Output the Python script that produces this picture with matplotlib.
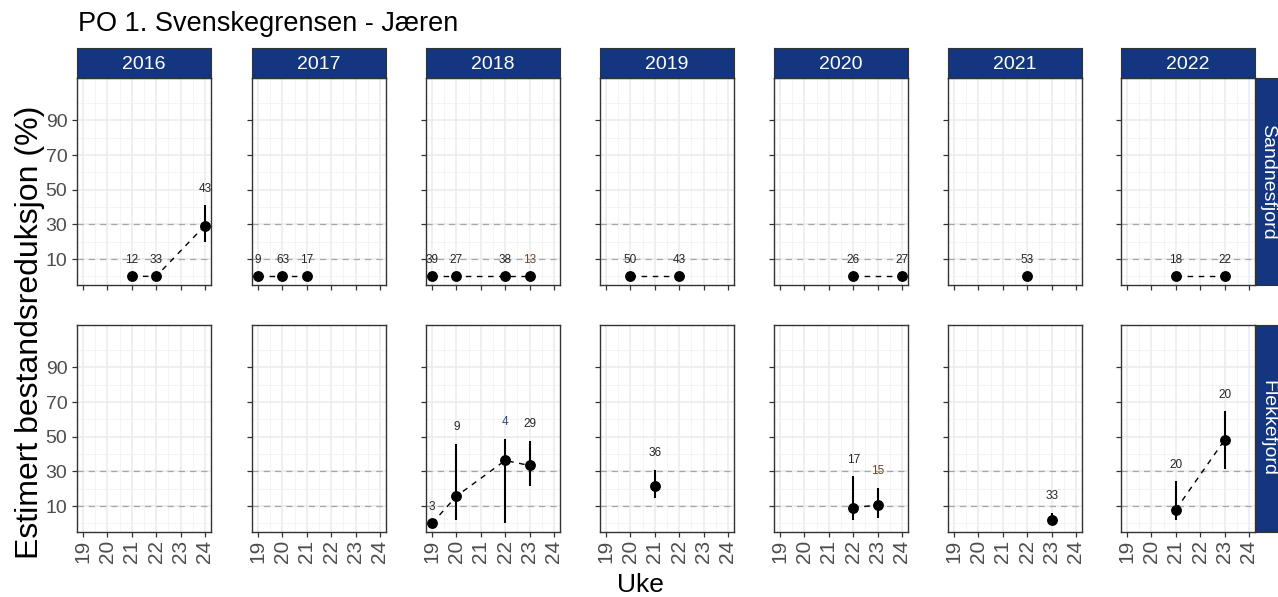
import numpy as np
import pandas as pd
import matplotlib
matplotlib.use("Agg")
import matplotlib.pyplot as plt

plt.rcParams['font.family'] = ['Liberation Sans', 'DejaVu Sans']

title = "PO 1. Svenskegrensen - Jæren"
years = [2016, 2017, 2018, 2019, 2020, 2021, 2022]
sites = ["Sandnesfjord", "Flekkefjord"]
week_ticks = [19, 20, 21, 22, 23, 24]
y_ticks = [10, 30, 50, 70, 90]

# Sandnesfjord estimates
s_year = [2016, 2016, 2016, 2017, 2017, 2017, 2018, 2018, 2018, 2018,
          2019, 2019, 2020, 2020, 2021, 2022, 2022]
s_week = [21, 22, 24, 19, 20, 21, 19, 20, 22, 23, 20, 22, 22, 24, 22, 21, 23]
s_est = [0, 0, 29.3, 0, 0, 0, 0, 0, 0, 0, 0, 0, 0, 0, 0, 0, 0]
s_lo = [0, 0, 20.1, 0, 0, 0, 0, 0, 0, 0, 0, 0, 0, 0, 0, 0, 0]
s_hi = [0, 0, 41.0, 0, 0, 0, 0, 0, 0, 0, 0, 0, 0, 0, 0, 0, 0]
s_n = [12, 33, 43, 9, 63, 17, 39, 27, 38, 13, 50, 43, 26, 27, 53, 18, 22]

# Flekkefjord estimates
f_year = [2018, 2018, 2018, 2018, 2019, 2020, 2020, 2021, 2022, 2022]
f_week = [19, 20, 22, 23, 21, 22, 23, 23, 21, 23]
f_est = [0, 15.7, 36.3, 33.4, 21.4, 9.0, 10.6, 1.8, 7.9, 48.1]
f_lo = [0, 1.7, 0, 21.4, 14.7, 2.2, 3.1, 0.8, 1.8, 31.3]
f_hi = [0, 46.0, 48.9, 47.7, 31.0, 27.3, 20.5, 6.2, 24.3, 64.7]
f_n = [3, 9, 4, 29, 36, 17, 15, 33, 20, 20]

df = pd.concat([
    pd.DataFrame({"site": "Sandnesfjord", "year": s_year, "week": s_week,
                  "est": s_est, "lo": s_lo, "hi": s_hi, "n": s_n}),
    pd.DataFrame({"site": "Flekkefjord", "year": f_year, "week": f_week,
                  "est": f_est, "lo": f_lo, "hi": f_hi, "n": f_n}),
])

# a few labels carry a tinted colour in the original
label_col = {("Flekkefjord", 2018, 22): "#2b4a78",
             ("Sandnesfjord", 2018, 23): "#6b4a2a",
             ("Flekkefjord", 2020, 23): "#6b4a2a"}

W, H = 1278, 597
strip_blue = "#143680"
fig = plt.figure(figsize=(W / 100, H / 100), dpi=100)

col_left = [77, 252, 426, 600, 774, 948, 1121]
pw = 134
row_top = [78, 325]
ph = 207
strip_h = 30

def fbox(x, y, w, h):
    return [x / W, 1 - (y + h) / H, w / W, h / H]

def strip(box):
    sax = fig.add_axes(box)
    sax.set_facecolor(strip_blue)
    sax.set_xticks([])
    sax.set_yticks([])
    for s in sax.spines.values():
        s.set_color("#333333")
    return sax

for r, site in enumerate(sites):
    for c, yr in enumerate(years):
        ax = fig.add_axes(fbox(col_left[c], row_top[r], pw, ph))
        ax.set_xlim(18.75, 24.25)
        ax.set_ylim(-5, 114.5)
        ax.set_xticks(week_ticks)
        ax.set_xticks(np.arange(19.5, 24.5, 1), minor=True)
        ax.set_yticks(y_ticks)
        ax.set_yticks(np.arange(0, 120, 20), minor=True)
        ax.grid(True, which="major", color="#ebebeb", lw=1.1)
        ax.grid(True, which="minor", color="#f2f2f2", lw=0.6)
        ax.set_axisbelow(True)
        for s in ax.spines.values():
            s.set_color("#333333")
            s.set_linewidth(1.0)
        ax.tick_params(which="major", length=3.5, width=0.9, color="#333333",
                       labelcolor="#4d4d4d", labelsize=14)
        ax.tick_params(which="minor", length=0)
        ax.tick_params(axis="x", labelrotation=90, labelsize=15, pad=2)
        if c != 0:
            ax.tick_params(axis="y", labelleft=False)
        if r != len(sites) - 1:
            ax.tick_params(axis="x", labelbottom=False)

        for yl in (10, 30):
            ax.axhline(yl, color="#a6a6a6", lw=0.9, ls=(0, (5, 4)), zorder=1)

        d = df[(df.site == site) & (df.year == yr)].sort_values("week")
        if len(d):
            ax.plot(d.week, d.est, color="black", lw=1.0, ls=(0, (4, 4)), zorder=2)
            ax.vlines(d.week, d.lo, d.hi, color="black", lw=1.5, zorder=3)
            ax.plot(d.week, d.est, "o", color="black", ms=6.8, zorder=4)
            for _, row in d.iterrows():
                col = label_col.get((site, yr, row.week), "#262626")
                ax.text(row.week, row.hi + 9.5, str(int(row.n)), ha="center",
                        va="center", fontsize=8.5, color=col, zorder=5)

        if r == 0:
            sax = strip(fbox(col_left[c], row_top[0] - strip_h, pw, strip_h))
            sax.text(0.5, 0.45, str(yr), color="white", fontsize=14,
                     ha="center", va="center", transform=sax.transAxes)

    strip(fbox(1256, row_top[r], 30, ph))
    fig.text(1268 / W, 1 - (row_top[r] + ph / 2) / H, site, color="white",
             fontsize=14, rotation=-90, ha="center", va="center")

fig.text(78 / W, 1 - 24 / H, title, fontsize=19.5, ha="left", va="center")
fig.text(30 / W, 1 - 332 / H, "Estimert bestandsreduksjon (%)", fontsize=23,
         rotation=90, ha="center", va="center")
fig.text(640 / W, 1 - 585 / H, "Uke", fontsize=19, ha="center", va="center")

fig.savefig("out.png", dpi=100)
